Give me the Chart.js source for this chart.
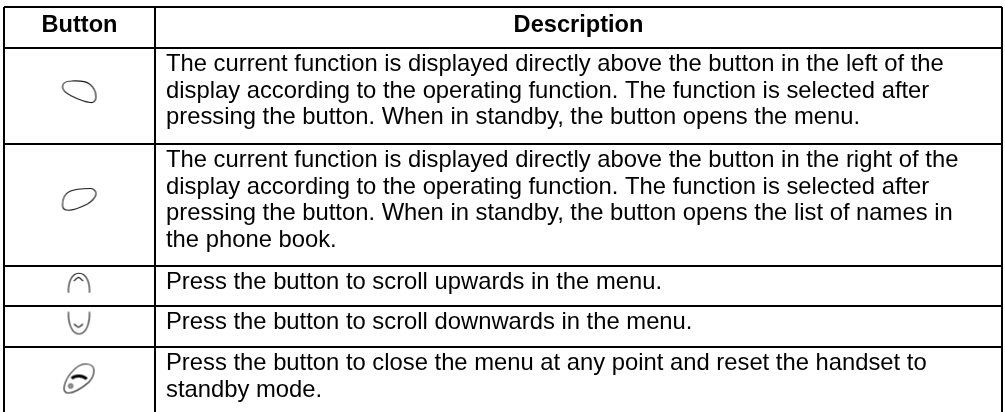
<!DOCTYPE html>
<html>
<head>
<meta charset="utf-8">
<title>Buttons</title>
<style>
  html, body { margin: 0; padding: 0; background: #fff; }
  canvas { display: block; }
</style>
<script src="https://cdn.jsdelivr.net/npm/chart.js@4"></script>
</head>
<body>
<canvas id="tableChart" width="1005" height="412"></canvas>
<script>
"use strict";

var headers = ['Button', 'Description'];
var buttons = ['left', 'right', 'up', 'down', 'end'];
var descriptions = [
  ['The current function is displayed directly above the button in the left of the',
   'display according to the operating function. The function is selected after',
   'pressing the button. When in standby, the button opens the menu.'],
  ['The current function is displayed directly above the button in the right of the',
   'display according to the operating function. The function is selected after',
   'pressing the button. When in standby, the button opens the list of names in',
   'the phone book.'],
  ['Press the button to scroll upwards in the menu.'],
  ['Press the button to scroll downwards in the menu.'],
  ['Press the button to close the menu at any point and reset the handset to',
   'standby mode.']
];
// table edges, used as the axis ticks
var colEdges = [0, 151, 998];
var rowEdges = [0, 41, 137, 259, 299, 340, 405];

var INK = '#1a1a1a';

function curve(ctx, pts) {
  ctx.moveTo(pts[0], pts[1]);
  for (var i = 2; i < pts.length; i += 6) {
    ctx.bezierCurveTo(pts[i], pts[i + 1], pts[i + 2], pts[i + 3], pts[i + 4], pts[i + 5]);
  }
}

// each icon is drawn around the middle of its cell
var iconPaths = {
  left: function (ctx) {
    curve(ctx, [-17, -9, -17, -13, -13, -15, -8, -15, 2, -15.5, 7, -14.5, 10, -12,
      14, -9, 16.5, -4, 16.5, 1, 16.5, 5, 14, 7, 11, 6.5, 5, 6, -2, 3, -8, 0, -13, -2.5, -17, -5, -17, -9]);
  },
  right: function (ctx) {
    curve(ctx, [-17, 0, -17, -5, -15, -11, -10, -13.5, -5, -16, 3, -16.5, 11, -16.5,
      15, -16.5, 17, -13, 16.5, -10.5, 15.5, -7, 12, -3.5, 8, -1, 2, 2, -6, 5.3, -11, 5.3, -15, 5.3, -17, 3, -17, 0]);
  },
  up: function (ctx) {
    curve(ctx, [-11, 6.7, -11.5, -3, -8, -12.7, -0.5, -12.7, 7, -12.7, 10.5, -3, 10, 6.7]);
    curve(ctx, [-5.5, -5, -4, -6.5, -2.5, -8, -1, -8.7, 0.5, -8, 2, -6.5, 3.5, -5]);
  },
  down: function (ctx) {
    curve(ctx, [-11, -14.8, -11.5, -4, -8, 7.5, -0.5, 7.5, 7, 7.5, 10.5, -4, 10, -14.8]);
    curve(ctx, [-5.5, -2.5, -4, -1, -2.5, 0.3, -1, 0.8, 0.5, 0.3, 2, -1, 3.5, -2.5]);
  },
  end: function (ctx) {
    curve(ctx, [-15.5, 8.8, -15, 3, -13, -1, -9, -6, -5, -11, 0, -15.5, 6, -15.5,
      11, -15.5, 14.5, -13, 14.5, -9, 14.5, -5, 13, -1, 9, 3, 3, 8, -6, 13.5, -11, 13.5, -14, 13.5, -15.5, 11.5, -15.5, 8.8]);
  }
};

function makeIcon(name) {
  var c = document.createElement('canvas');
  c.width = 60;
  c.height = 60;
  var ctx = c.getContext('2d');
  ctx.translate(30, 30);
  ctx.strokeStyle = INK;
  ctx.lineWidth = 1.1;
  ctx.beginPath();
  iconPaths[name](ctx);
  ctx.stroke();
  if (name === 'end') {
    ctx.lineWidth = 3;
    ctx.strokeStyle = '#000';
    ctx.beginPath();
    curve(ctx, [-7.8, -1, -5, -4, 3, -5, 7.2, -0.5]);
    ctx.stroke();
    ctx.lineWidth = 0.8;
    ctx.strokeStyle = '#444';
    ctx.fillStyle = '#999';
    ctx.beginPath();
    ctx.arc(-8.8, 6.5, 2.3, 0, Math.PI * 2);
    ctx.fill();
    ctx.stroke();
  }
  return c;
}

var iconPoints = buttons.map(function (b, i) {
  return { x: colEdges[1] / 2, y: (rowEdges[i + 1] + rowEdges[i + 2]) / 2 };
});

var cellText = {
  id: 'cellText',
  afterDraw: function (chart) {
    var ctx = chart.ctx;
    var xs = chart.scales.x;
    var ys = chart.scales.y;
    var rowTop = function (row) { return ys.getPixelForValue(rowEdges[row]); };
    ctx.save();
    ctx.fillStyle = '#000';
    ctx.textBaseline = 'alphabetic';
    ctx.font = 'bold 23.6px "Liberation Sans"';
    ctx.textAlign = 'center';
    headers.forEach(function (h, i) {
      var mid = (xs.getPixelForValue(colEdges[i]) + xs.getPixelForValue(colEdges[i + 1])) / 2;
      ctx.fillText(h, mid, rowTop(0) + 25);
    });
    ctx.font = '23.8px "Liberation Sans"';
    ctx.textAlign = 'left';
    descriptions.forEach(function (lines, i) {
      lines.forEach(function (line, j) {
        ctx.fillText(line, xs.getPixelForValue(colEdges[1]) + 11, rowTop(i + 1) + 23 + j * 26.6);
      });
    });
    ctx.restore();
  }
};

function lineAxis(extra) {
  return Object.assign({
    type: 'linear',
    border: { display: false },
    grid: { color: '#000', lineWidth: 2, drawTicks: false },
    ticks: { display: false }
  }, extra);
}

new Chart(document.getElementById('tableChart').getContext('2d'), {
  type: 'scatter',
  data: {
    datasets: [{
      data: iconPoints,
      pointStyle: buttons.map(makeIcon),
      pointRadius: 30,
      clip: false
    }]
  },
  options: {
    responsive: false,
    animation: false,
    layout: { autoPadding: false, padding: { left: 4, right: 3, top: 7, bottom: 0 } },
    plugins: { legend: { display: false }, tooltip: { enabled: false } },
    scales: {
      x: lineAxis({
        min: 0,
        max: 998,
        afterBuildTicks: function (axis) {
          axis.ticks = colEdges.map(function (v) { return { value: v }; });
        }
      }),
      y: lineAxis({
        min: 0,
        max: 405,
        reverse: true,
        afterBuildTicks: function (axis) {
          axis.ticks = rowEdges.slice(0, -1).map(function (v) { return { value: v }; });
        }
      })
    }
  },
  plugins: [cellText]
});
</script>
</body>
</html>
